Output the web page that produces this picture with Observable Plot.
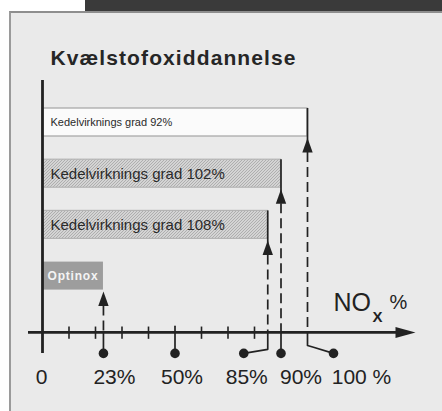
<!DOCTYPE html>
<html><head><meta charset="utf-8">
<script src="https://cdn.jsdelivr.net/npm/d3@7"></script>
<script src="https://cdn.jsdelivr.net/npm/@observablehq/plot@0.6"></script>
<style>
body{margin:0;background:#fff;}
#wrap{position:relative;width:442px;height:411px;overflow:hidden;}
#band{position:absolute;left:85px;top:0;width:357px;height:11px;background:#3a3a3a;}
#panel{position:absolute;left:9px;top:11px;width:440px;height:410px;background:#eaeaea;border-left:2px solid #9a9a9a;border-top:2px solid #8e8e8e;}
#chart{position:absolute;left:0;top:0;}
</style></head>
<body><div id="wrap"><div id="band"></div><div id="panel"></div><div id="chart"></div></div>
<script>
// ---- data ----
const title = "Kvælstofoxiddannelse";
const barLabels = ["Kedelvirknings grad 92%", "Kedelvirknings grad 102%", "Kedelvirknings grad 108%", "Optinox"];
const barNox = [100, 90, 85, 23];
const markValues = [0, 23, 50, 85, 90, 100];
const markLabels = ["0", "23%", "50%", "85%", "90%", "100 %"];
const axisTitle = ["NO", "X", "%"];

// ---- layout / style (not data) ----
const PPU = (307 - 42) / 100;          // px per percent unit
const px = p => p / PPU;               // px -> x units
const ROW = 51.2;                      // px per row
const py = p => p / ROW;               // px -> row units
const HALF = py(14);
const ARROW = HALF + py(9);
const AXIS = 4.1, DOT = 4.51, LABEL = 5.1;
const barStyle = [
  {fill: "#fbfbfb", stroke: "#a4a4a4"},
  {fill: "url(#hatch)", stroke: "#b4b4b4"},
  {fill: "url(#hatch)", stroke: "#b4b4b4"},
  {fill: "#9d9d9d", stroke: "none"}
];
const dotShift = {85: -24, 100: 26};
const labelShift = {0: -1, 23: 11, 50: 7, 85: -21, 90: 20, 100: 54};

const bars = barLabels.map((label, i) => ({label, nox: barNox[i], row: i, ...barStyle[i]}));
const marks = markValues.map((v, i) => ({v, label: markLabels[i]}));
const dotted = marks.filter(d => d.v > 0);

const connectors = [];
for (const d of dotted) {
  const dx = px(dotShift[d.v] || 0);
  const pts = [[d.v, d.v === 50 ? 3.98 : AXIS]];
  if (d.v === 85) pts.push([d.v, 4.43]);
  if (d.v === 100) { pts.push([d.v, 4.355]); pts.push([d.v + px(6), 4.39]); }
  pts.push([d.v + dx, DOT]);
  pts.forEach(([x, y]) => connectors.push({k: d.v, x, y}));
}

const upTri = {draw(ctx) { ctx.moveTo(0, -7.5); ctx.lineTo(5.2, 7); ctx.lineTo(-5.2, 7); ctx.closePath(); }};
const rightTri = {draw(ctx) { ctx.moveTo(10, 0); ctx.lineTo(-10, -5.5); ctx.lineTo(-10, 5.5); ctx.closePath(); }};
const ink = "#222";

const chart = Plot.plot({
  width: 442, height: 411,
  marginTop: 0, marginRight: 0, marginBottom: 0, marginLeft: 0,
  x: {domain: [0, 100], range: [42, 307], axis: null},
  y: {domain: [0, 4], range: [122, 122 + 4 * ROW], axis: null},
  color: {type: "identity"},
  style: {background: "transparent", fontFamily: "'Liberation Sans', Arial, sans-serif", color: ink, overflow: "visible"},
  marks: [
    Plot.rectX(bars, {x1: 0, x2: "nox", y1: d => d.row - HALF, y2: d => d.row + HALF, fill: "fill", stroke: "stroke", strokeWidth: 1.2}),
    Plot.ruleX(bars.slice(0, 3), {x: "nox", y1: d => d.row - HALF, y2: d => d.row + ARROW, stroke: ink, strokeWidth: 1.7}),
    Plot.ruleX(bars, {x: "nox", y1: d => d.row + ARROW + py(7), y2: AXIS, stroke: ink, strokeWidth: 1.7, strokeDasharray: "10,5"}),
    Plot.dot(bars, {x: "nox", y: d => d.row + ARROW, symbol: upTri, fill: ink, stroke: "none"}),
    Plot.text(bars.slice(0, 1), {x: px(8), y: "row", text: "label", textAnchor: "start", fontSize: 11, fill: "#2a2a2a"}),
    Plot.text(bars.slice(1, 3), {x: px(8), y: "row", text: "label", textAnchor: "start", fontSize: 15, fill: "#2a2a2a"}),
    Plot.text(bars.slice(3), {x: px(5), y: "row", text: "label", textAnchor: "start", fontSize: 12, fontWeight: "bold", fill: "#f4f4f4"}),
    // axes
    Plot.ruleX([0], {y1: -0.82, y2: DOT, stroke: ink, strokeWidth: 2.8}),
    Plot.ruleY([AXIS], {x1: px(28 - 42), x2: px(398 - 42), stroke: ink, strokeWidth: 2.8}),
    Plot.dot([AXIS], {x: px(405 - 42), y: d => d, symbol: rightTri, fill: ink, stroke: "none"}),
    Plot.ruleX(d3.range(10, 90, 10).filter(v => v !== 50), {y1: 3.995, y2: 4.235, stroke: ink, strokeWidth: 1.6}),
    Plot.line(connectors, {x: "x", y: "y", z: "k", stroke: ink, strokeWidth: 1.7}),
    Plot.dot(dotted, {x: d => d.v + px(dotShift[d.v] || 0), y: DOT, r: 4.8, fill: ink, stroke: "none"}),
    Plot.text(marks, {x: d => d.v + px(labelShift[d.v]), y: LABEL, text: "label", fontSize: 21, lineAnchor: "bottom", fill: "#222"}),
    // NOx %
    Plot.text([axisTitle[0]], {x: px(333 - 42), y: 3.672, text: d => d, textAnchor: "start", lineAnchor: "bottom", fontSize: 25, fill: "#222"}),
    Plot.text([axisTitle[1]], {x: px(372 - 42), y: 3.906, text: d => d, textAnchor: "start", lineAnchor: "bottom", fontSize: 15, fontWeight: "bold", fill: "#222"}),
    Plot.text([axisTitle[2]], {x: px(389 - 42), y: 3.633, text: d => d, textAnchor: "start", lineAnchor: "bottom", fontSize: 20, fill: "#222"}),
    // title
    Plot.text([title], {x: px(8), y: py(64 - 122), text: d => d, textAnchor: "start", lineAnchor: "bottom", fontSize: 21, fontWeight: "bold", fill: "#262626"})
  ]
});

const svg = d3.select(chart);
svg.insert("defs", ":first-child").html(
  '<pattern id="hatch" width="3" height="3" patternUnits="userSpaceOnUse">' +
  '<rect width="3" height="3" fill="#d4d4d4"/>' +
  '<path d="M0,3 L3,0 M-1,1 L1,-1 M2,4 L4,2" stroke="#a9a9a9" stroke-width="0.9"/></pattern>');
svg.selectAll("text").each(function() {
  const t = this.textContent;
  if (t === title) this.setAttribute("letter-spacing", "1.1");
  if (t === "Optinox") this.setAttribute("letter-spacing", "0.8");
});
document.getElementById("chart").appendChild(chart);
</script>
</body></html>
